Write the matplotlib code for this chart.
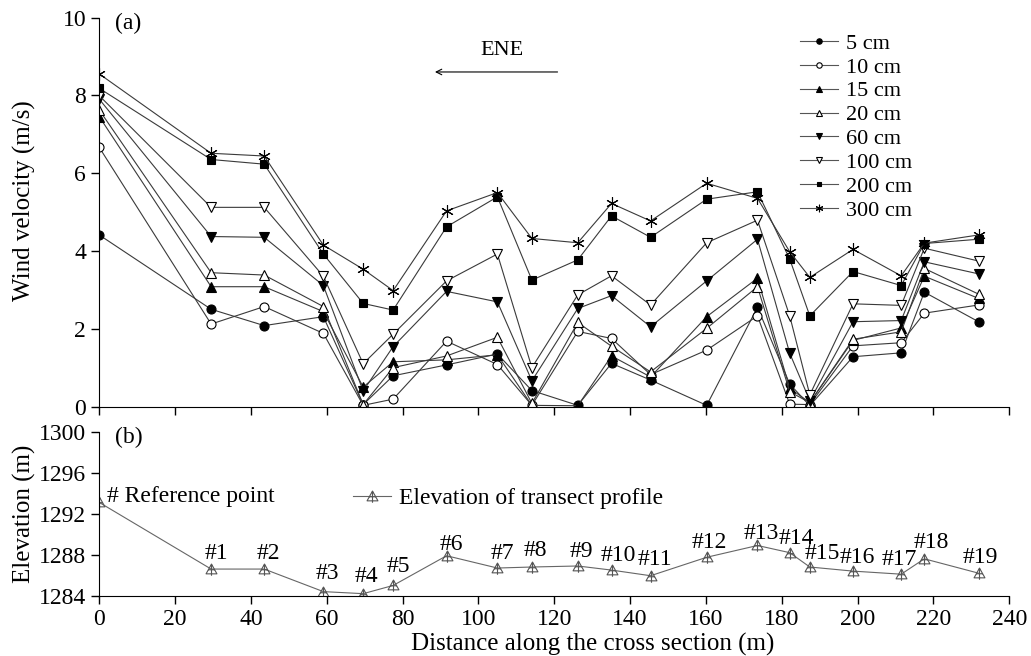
import matplotlib
matplotlib.use("Agg")
import matplotlib.pyplot as plt
from matplotlib.path import Path

plt.rcParams['font.family'] = ['Liberation Serif', 'DejaVu Serif']

# ---------------- data ----------------
distance = [0, 29.5, 43.5, 59.1, 69.6, 77.5, 91.6, 105.0, 114.1, 126.2, 135.1,
            145.4, 160.2, 173.6, 182.1, 187.4, 198.8, 211.5, 217.6, 231.9]

v_5cm = [4.41, 2.50, 2.08, 2.31, 0.05, 0.79, 1.07, 1.35, 0.41, 0.03, 1.11,
         0.68, 0.03, 2.55, 0.58, 0.02, 1.28, 1.38, 2.94, 2.18]
v_10cm = [6.66, 2.12, 2.57, 1.88, 0.03, 0.19, 1.68, 1.08, 0.03, 1.93, 1.75,
          0.82, 1.45, 2.33, 0.06, 0.05, 1.56, 1.64, 2.40, 2.61]
v_15cm = [7.45, 3.08, 3.08, 2.44, 0.50, 1.15, 1.20, 1.33, 0.03, 0.02, 1.30,
          0.76, 2.31, 3.30, 0.47, 0.10, 1.70, 2.02, 3.35, 2.78]
v_20cm = [7.62, 3.44, 3.38, 2.57, 0.05, 1.00, 1.30, 1.78, 0.08, 2.16, 1.55,
          0.89, 2.01, 3.08, 0.38, 0.10, 1.73, 1.92, 3.55, 2.89]
v_60cm = [7.90, 4.37, 4.35, 3.11, 0.40, 1.54, 2.96, 2.69, 0.66, 2.52, 2.85,
          2.05, 3.23, 4.30, 1.37, 0.15, 2.18, 2.21, 3.72, 3.41]
v_100cm = [7.99, 5.12, 5.12, 3.35, 1.10, 1.86, 3.23, 3.92, 1.00, 2.87, 3.36,
           2.61, 4.21, 4.79, 2.33, 0.30, 2.64, 2.60, 4.07, 3.74]
v_200cm = [8.18, 6.35, 6.23, 3.92, 2.65, 2.48, 4.62, 5.39, 3.25, 3.77, 4.90,
           4.35, 5.33, 5.52, 3.79, 2.33, 3.47, 3.11, 4.19, 4.30]
v_300cm = [8.55, 6.51, 6.44, 4.15, 3.53, 2.98, 5.03, 5.50, 4.32, 4.21, 5.22,
           4.77, 5.74, 5.35, 3.98, 3.32, 4.04, 3.36, 4.20, 4.41]

height_labels = ['5 cm', '10 cm', '15 cm', '20 cm', '60 cm', '100 cm', '200 cm', '300 cm']

elevation = [1293.1, 1286.6, 1286.6, 1284.4, 1284.2, 1285.0, 1287.9, 1286.7,
             1286.8, 1286.9, 1286.5, 1285.95, 1287.75, 1288.9, 1288.2, 1286.8,
             1286.4, 1286.1, 1287.6, 1286.2]
station_labels = ['# Reference point'] + ['#%d' % i for i in range(1, 20)]

# ---------------- figure ----------------
fig = plt.figure(figsize=(10.31, 6.56), dpi=100)
ax1 = fig.add_axes([0.0963, 0.3803, 0.8826, 0.5930])
ax2 = fig.add_axes([0.0963, 0.0919, 0.8826, 0.2500])

series = [v_5cm, v_10cm, v_15cm, v_20cm, v_60cm, v_100cm, v_200cm, v_300cm]
styles = [
    dict(marker='o', mfc='black', ms=6.5),
    dict(marker='o', mfc='white', ms=6.5),
    dict(marker='^', mfc='black', ms=7),
    dict(marker='^', mfc='white', ms=7),
    dict(marker='v', mfc='black', ms=7),
    dict(marker='v', mfc='white', ms=7),
    dict(marker='s', mfc='black', ms=6),
    dict(marker=(6, 2, 0), mfc='black', ms=9),
]
for vals, st, lab in zip(series, styles, height_labels):
    ax1.plot(distance, vals, color='#3a3a3a', lw=0.8, mec='black',
             mew=0.8, label=lab, **st)

ax1.set_xlim(0, 240)
ax1.set_ylim(0, 10)
ax1.set_xticks(range(0, 241, 20))
ax1.set_yticks(range(0, 11, 2))
ax1.tick_params(axis='x', labelbottom=False)
ax1.set_ylabel('Wind velocity (m/s)', fontsize=18)
ax1.yaxis.set_label_coords(-0.07, 0.53)
ax1.text(0.017, 0.985, '(a)', transform=ax1.transAxes, fontsize=17,
         ha='left', va='center')

# wind direction arrow
ax1.annotate('', xy=(87.8, 8.6), xytext=(121.6, 8.6),
             arrowprops=dict(arrowstyle='->', lw=0.8, color='black'))
ax1.text(106.2, 9.14, 'ENE', fontsize=16, ha='center', va='center')

leg1 = ax1.legend(loc='upper left', bbox_to_anchor=(0.77, 0.96), frameon=False,
                  fontsize=16, handlelength=1.7, handletextpad=0.35,
                  labelspacing=0.15, borderpad=0, borderaxespad=0,
                  markerscale=0.6)
for h in leg1.get_lines():
    h.set_color('#555555')
    h.set_markeredgecolor('black')

# ---------------- bottom panel ----------------
tri_plus = Path(
    [(-1, -0.8), (1, -0.8), (0, 1), (-1, -0.8),
     (0, -1.15), (0, 1.0), (-0.6, -0.05), (0.6, -0.05)],
    [Path.MOVETO, Path.LINETO, Path.LINETO, Path.CLOSEPOLY,
     Path.MOVETO, Path.LINETO, Path.MOVETO, Path.LINETO])

ax2.plot(distance, elevation, color='#666666', lw=0.8, marker=tri_plus,
         ms=9, mfc='none', mec='#555555', mew=0.8,
         label='Elevation of transect profile')
ax2.set_xlim(0, 240)
ax2.set_ylim(1284, 1300)
ax2.set_xticks(range(0, 241, 20))
ax2.set_yticks(range(1284, 1301, 4))
ax2.set_ylabel('Elevation (m)', fontsize=18)
ax2.yaxis.set_label_coords(-0.07, 0.5)
ax2.set_xlabel('Distance along the cross section (m)', fontsize=18)
ax2.xaxis.set_label_coords(0.5425, -0.225)
ax2.text(0.017, 0.968, '(b)', transform=ax2.transAxes, fontsize=17,
         ha='left', va='center')

label_dx = [8, 5, 4, 4, 3, 5, 5, 5, 3, 4, 7, 4, 3, 4, 7, 12, 4, -2, 7, 2]
label_dy = [6, 16, 16, 18, 17, 19, 11, 15, 17, 14, 15, 16, 15, 12, 14, 14, 14, 15, 16, 16]
for i, (xv, yv, lab) in enumerate(zip(distance, elevation, station_labels)):
    if i == 0:
        ax2.annotate(lab, (xv, yv), xytext=(label_dx[i], label_dy[i]),
                     textcoords='offset pixels', ha='left', va='center',
                     fontsize=17)
    else:
        ax2.annotate(lab, (xv, yv), xytext=(label_dx[i], label_dy[i]),
                     textcoords='offset pixels', ha='center', va='center',
                     fontsize=17)

ax2.legend(loc='center left', bbox_to_anchor=(0.279, 0.594), frameon=False,
           fontsize=17, handlelength=1.6, handletextpad=0.35, borderpad=0,
           borderaxespad=0)

for ax in (ax1, ax2):
    ax.spines['top'].set_visible(False)
    ax.spines['right'].set_visible(False)
    ax.tick_params(direction='out', length=6, width=1, labelsize=17)
    ax.set_facecolor('white')

fig.savefig('out.png', dpi=100, facecolor='white')
